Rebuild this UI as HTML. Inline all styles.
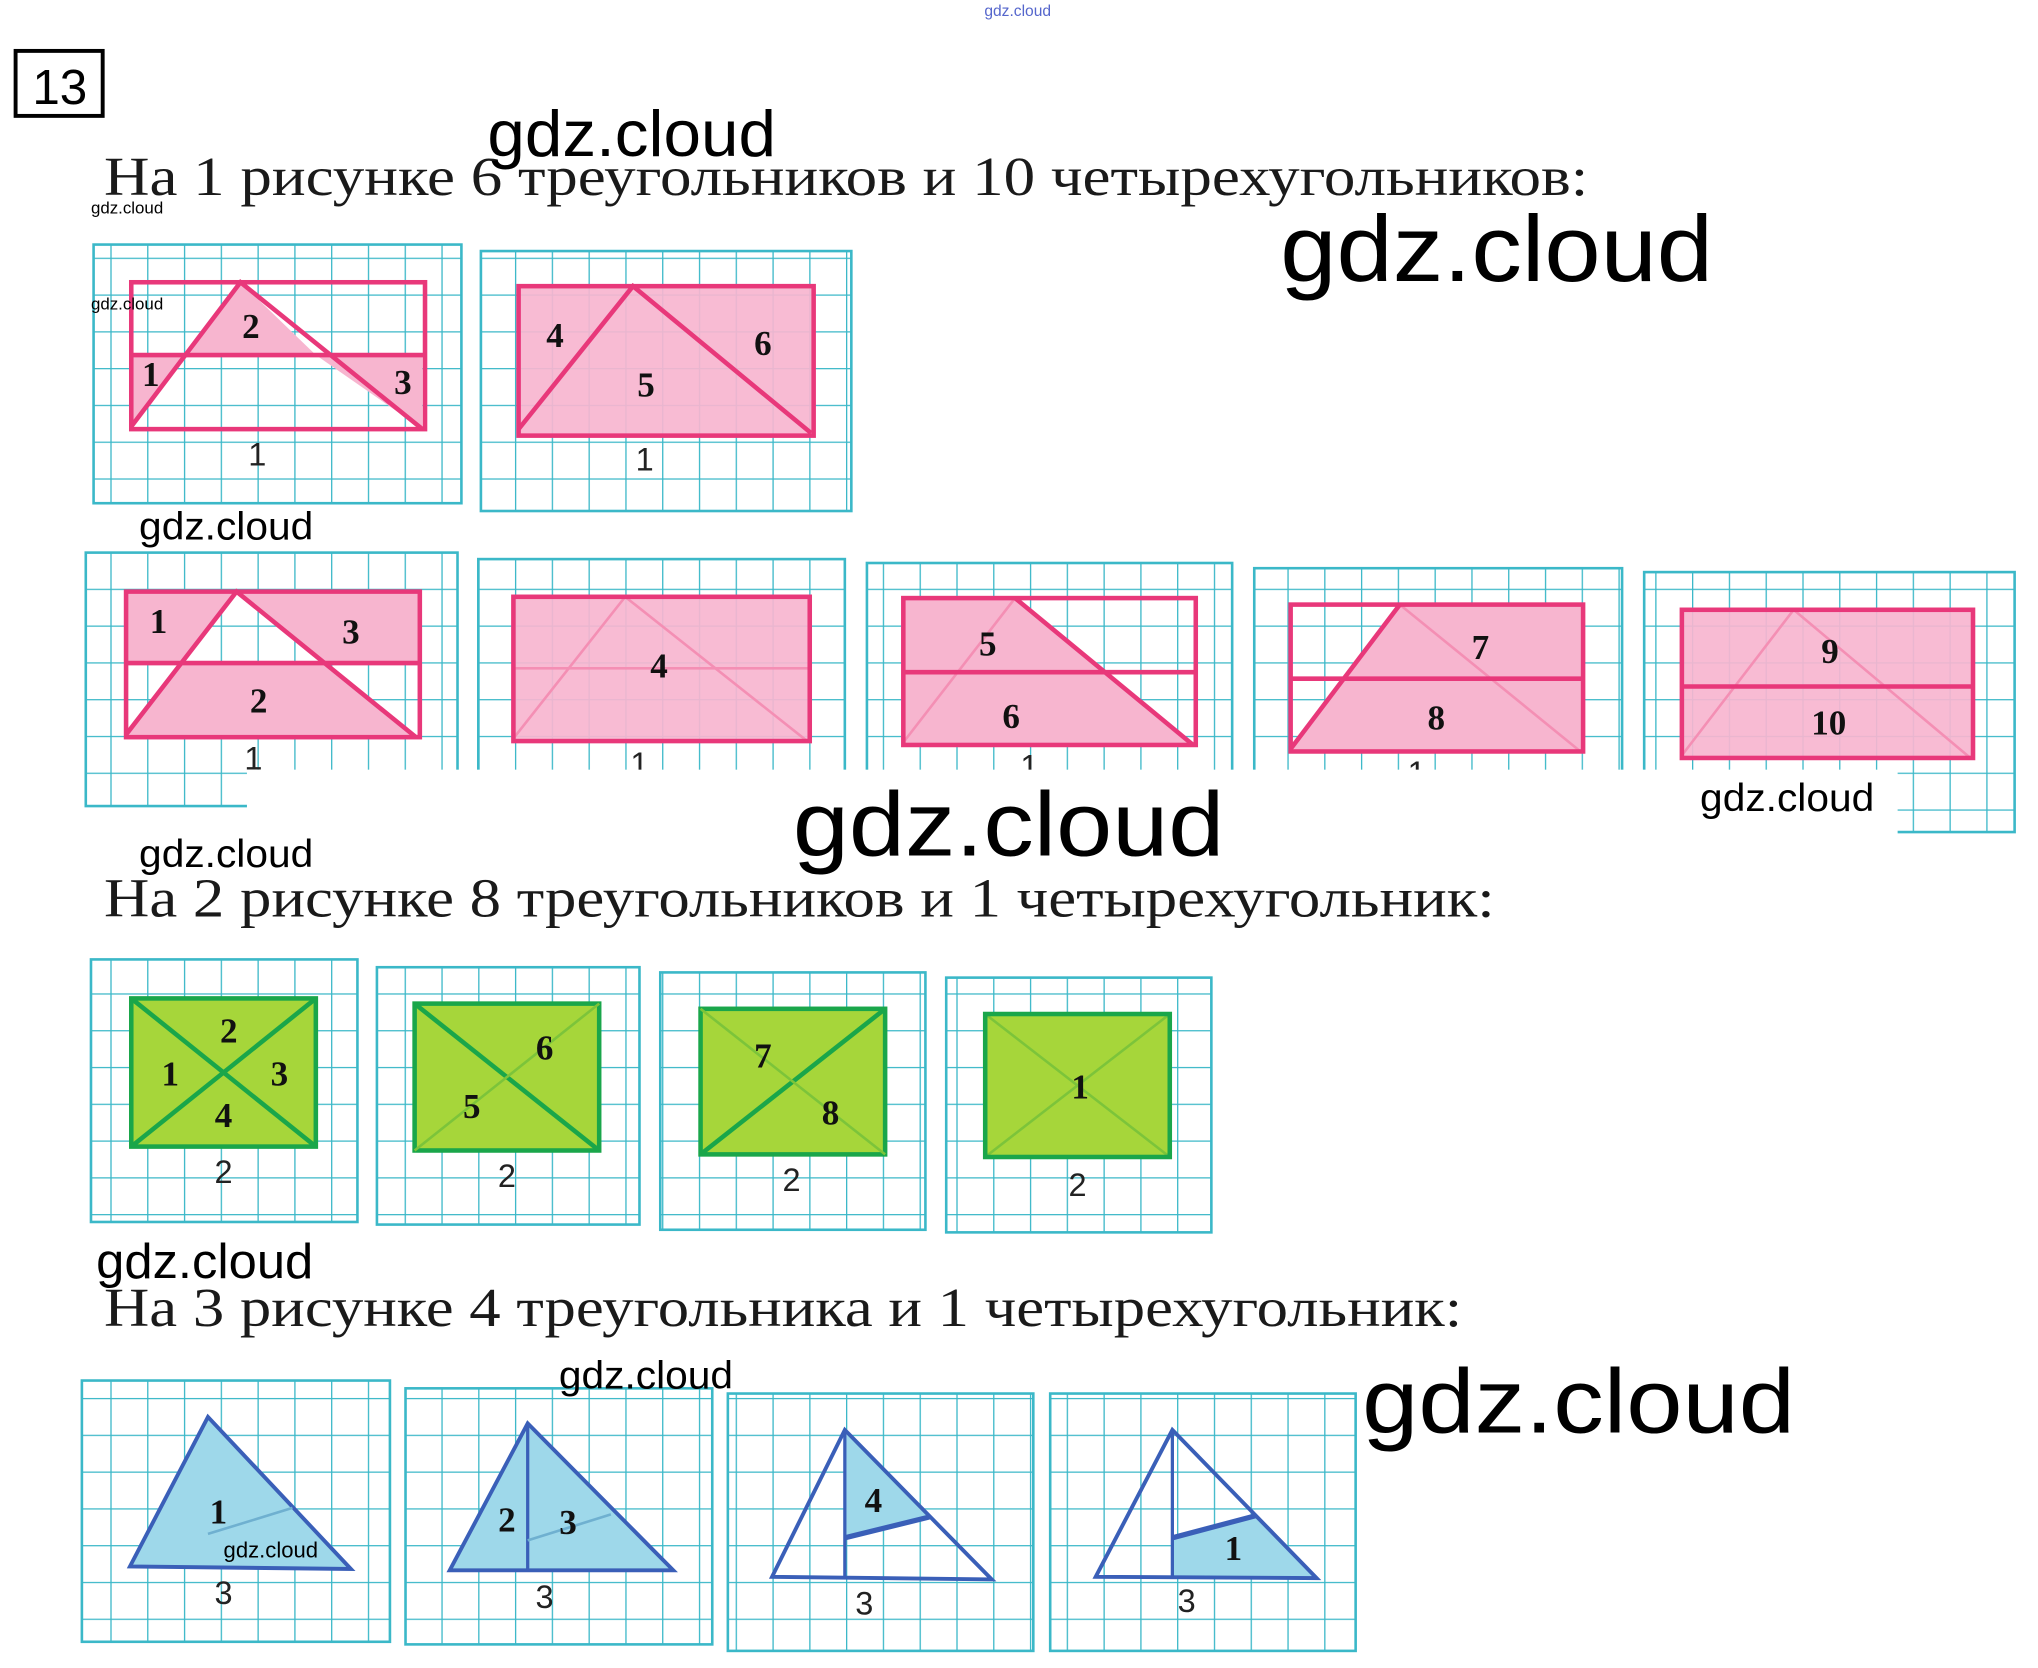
<!DOCTYPE html>
<html><head><meta charset="utf-8"><style>
html,body{margin:0;padding:0;background:#fff;width:2038px;height:1668px;overflow:hidden}
svg{display:block}
.h{font-family:"Liberation Serif",serif;font-size:42px;fill:#1a1a1a}
.w{font-family:"Liberation Sans",sans-serif;fill:#000}
.n{font-family:"Liberation Serif",serif;font-weight:bold;font-size:27px;fill:#111;text-anchor:middle}
.l{font-family:"Liberation Sans",sans-serif;font-size:25px;fill:#222;text-anchor:middle}
</style></head><body>
<svg width="2038" height="1668" viewBox="0 0 1568 1283" xmlns="http://www.w3.org/2000/svg">
<defs>
<pattern id="g" width="28.3" height="28.3" patternUnits="userSpaceOnUse">
<path d="M0 0H28.3M0 0V28.3" stroke="#3bb8c8" stroke-width="2" fill="none"/>
</pattern>
</defs>
<text x="783" y="12" font-size="12" fill="#5566cc" font-family="Liberation Sans" text-anchor="middle">gdz.cloud</text>
<rect x="12" y="39" width="67" height="50" fill="none" stroke="#000" stroke-width="3"/>
<text x="46" y="80" class="w" font-size="38" text-anchor="middle">13</text>

<text x="80" y="150" class="h" textLength="1142" lengthAdjust="spacingAndGlyphs">На 1 рисунке 6 треугольников и 10 четырехугольников:</text>

<!-- Row 1 -->
<g>
<rect x="72" y="188" width="283" height="199" fill="url(#g)" stroke="#3bb8c8" stroke-width="2"/>
<polygon points="101,273 101,328 145,273" fill="#f7b5cf"/>
<polygon points="185,217 145,273 243,273" fill="#f7b5cf"/>
<polygon points="243,273 325,330 325,273" fill="#f7b5cf"/>
<g stroke="#e8387a" stroke-width="3.5" fill="none">
<rect x="101" y="217" width="226" height="113"/>
<line x1="101" y1="273" x2="327" y2="273"/>
<polyline points="101,328 185,217 325,330"/>
</g>
<text x="116" y="297" class="n">1</text><text x="193" y="260" class="n">2</text><text x="310" y="303" class="n">3</text>
<text x="198" y="358" class="l">1</text>
</g>
<g>
<rect x="370" y="193" width="285" height="200" fill="url(#g)" stroke="#3bb8c8" stroke-width="2"/>
<rect x="399" y="220" width="227" height="115" fill="#f7b5cf" fill-opacity="0.92"/>
<g stroke="#e8387a" stroke-width="3.5" fill="none">
<rect x="399" y="220" width="227" height="115"/>
<polyline points="399,330 487,220 624,333"/>
</g>
<text x="427" y="267" class="n">4</text><text x="497" y="305" class="n">5</text><text x="587" y="273" class="n">6</text>
<text x="496" y="362" class="l">1</text>
</g>

<!-- Row 2 -->
<g>
<rect x="66" y="425" width="286" height="195" fill="url(#g)" stroke="#3bb8c8" stroke-width="2"/>
<polygon points="97,455 182,455 140,510 97,510" fill="#f7b5cf"/>
<polygon points="182,455 323,455 323,510 250,510" fill="#f7b5cf"/>
<polygon points="140,510 250,510 320,567 97,567" fill="#f7b5cf"/>
<g stroke="#e8387a" stroke-width="3.5" fill="none">
<rect x="97" y="455" width="226" height="112"/>
<line x1="97" y1="510" x2="323" y2="510"/>
<polyline points="97,565 182,455 320,567"/>
</g>
<text x="122" y="487" class="n">1</text><text x="199" y="548" class="n">2</text><text x="270" y="495" class="n">3</text>
<text x="195" y="592" class="l">1</text>
</g>
<g>
<rect x="368" y="430" width="282" height="170" fill="url(#g)" stroke="#3bb8c8" stroke-width="2"/>
<rect x="395" y="459" width="228" height="111" fill="#f7b5cf" fill-opacity="0.92"/>
<g stroke="#f48fb4" stroke-width="2" fill="none"><line x1="395" y1="514" x2="623" y2="514"/><polyline points="395,568 481,459 621,570"/></g>
<rect x="395" y="459" width="228" height="111" fill="none" stroke="#e8387a" stroke-width="3.5"/>
<text x="507" y="521" class="n">4</text>
<text x="492" y="596" class="l">1</text>
</g>
<g>
<rect x="667" y="433" width="281" height="177" fill="url(#g)" stroke="#3bb8c8" stroke-width="2"/>
<polygon points="695,460 781,460 918,573 695,573" fill="#f7b5cf"/>
<g stroke="#f48fb4" stroke-width="2" fill="none"><line x1="695" y1="571" x2="781" y2="460"/></g>
<g stroke="#e8387a" stroke-width="3.5" fill="none">
<rect x="695" y="460" width="225" height="113"/>
<line x1="695" y1="517" x2="920" y2="517"/>
<line x1="781" y1="460" x2="918" y2="573"/>
</g>
<text x="760" y="504" class="n">5</text><text x="778" y="560" class="n">6</text>
<text x="792" y="598" class="l">1</text>
</g>
<g>
<rect x="965" y="437" width="283" height="178" fill="url(#g)" stroke="#3bb8c8" stroke-width="2"/>
<polygon points="1077,465 1218,465 1218,578 993,578" fill="#f7b5cf"/>
<g stroke="#f48fb4" stroke-width="2" fill="none"><line x1="1077" y1="465" x2="1216" y2="578"/></g>
<g stroke="#e8387a" stroke-width="3.5" fill="none">
<rect x="993" y="465" width="225" height="113"/>
<line x1="993" y1="522" x2="1218" y2="522"/>
<line x1="993" y1="576" x2="1077" y2="465"/>
</g>
<text x="1139" y="507" class="n">7</text><text x="1105" y="561" class="n">8</text>
<text x="1090" y="603" class="l">1</text>
</g>
<g>
<rect x="1265" y="440" width="285" height="200" fill="url(#g)" stroke="#3bb8c8" stroke-width="2"/>
<rect x="1294" y="469" width="224" height="114" fill="#f7b5cf" fill-opacity="0.92"/>
<g stroke="#f48fb4" stroke-width="2" fill="none"><polyline points="1294,581 1380,469 1516,583"/></g>
<g stroke="#e8387a" stroke-width="3.5" fill="none">
<rect x="1294" y="469" width="224" height="114"/>
<line x1="1294" y1="528" x2="1518" y2="528"/>
</g>
<text x="1408" y="510" class="n">9</text><text x="1407" y="565" class="n">10</text>
</g>
<!-- white band -->
<rect x="190" y="592" width="1270" height="50" fill="#fff"/>

<text x="80" y="705" class="h" textLength="1070" lengthAdjust="spacingAndGlyphs">На 2 рисунке 8 треугольников и 1 четырехугольник:</text>

<!-- Row 3 -->
<g>
<rect x="70" y="738" width="205" height="202" fill="url(#g)" stroke="#3bb8c8" stroke-width="2"/>
<rect x="101" y="768" width="142" height="114" fill="#a6d63a"/>
<g stroke="#1aa64a" stroke-width="3.5" fill="none"><rect x="101" y="768" width="142" height="114"/><line x1="101" y1="768" x2="243" y2="882"/><line x1="243" y1="768" x2="101" y2="882"/></g>
<text x="131" y="835" class="n">1</text><text x="176" y="802" class="n">2</text><text x="215" y="835" class="n">3</text><text x="172" y="867" class="n">4</text>
<text x="172" y="910" class="l">2</text>
</g>
<g>
<rect x="290" y="744" width="202" height="198" fill="url(#g)" stroke="#3bb8c8" stroke-width="2"/>
<rect x="319" y="772" width="142" height="113" fill="#a6d63a"/>
<g stroke="#1aa64a" stroke-width="3.5" fill="none"><rect x="319" y="772" width="142" height="113"/><line x1="319" y1="772" x2="461" y2="885"/></g>
<line x1="461" y1="772" x2="319" y2="885" stroke="#7cc43a" stroke-width="2"/>
<text x="419" y="815" class="n">6</text><text x="363" y="860" class="n">5</text>
<text x="390" y="913" class="l">2</text>
</g>
<g>
<rect x="508" y="748" width="204" height="198" fill="url(#g)" stroke="#3bb8c8" stroke-width="2"/>
<rect x="539" y="776" width="142" height="112" fill="#a6d63a"/>
<g stroke="#1aa64a" stroke-width="3.5" fill="none"><rect x="539" y="776" width="142" height="112"/><line x1="681" y1="776" x2="539" y2="888"/></g>
<line x1="539" y1="776" x2="681" y2="888" stroke="#7cc43a" stroke-width="2"/>
<text x="587" y="821" class="n">7</text><text x="639" y="865" class="n">8</text>
<text x="609" y="916" class="l">2</text>
</g>
<g>
<rect x="728" y="752" width="204" height="196" fill="url(#g)" stroke="#3bb8c8" stroke-width="2"/>
<rect x="758" y="780" width="142" height="110" fill="#a6d63a"/>
<g stroke="#7cc43a" stroke-width="2"><line x1="758" y1="780" x2="900" y2="890"/><line x1="900" y1="780" x2="758" y2="890"/></g>
<rect x="758" y="780" width="142" height="110" fill="none" stroke="#1aa64a" stroke-width="3.5"/>
<text x="831" y="845" class="n">1</text>
<text x="829" y="920" class="l">2</text>
</g>

<text x="80" y="1020" class="h" textLength="1045" lengthAdjust="spacingAndGlyphs">На 3 рисунке 4 треугольника и 1 четырехугольник:</text>

<!-- Row 4 -->
<g>
<rect x="63" y="1062" width="237" height="201" fill="url(#g)" stroke="#3bb8c8" stroke-width="2"/>
<polygon points="100,1205 160,1090 270,1207" fill="#9ed8ea" stroke="#3a5fb8" stroke-width="3"/>
<line x1="160" y1="1180" x2="225" y2="1160" stroke="#6fb0d0" stroke-width="2"/>
<text x="168" y="1172" class="n">1</text>
<text x="172" y="1234" class="l">3</text>
</g>
<g>
<rect x="312" y="1068" width="236" height="197" fill="url(#g)" stroke="#3bb8c8" stroke-width="2"/>
<polygon points="346,1208 406,1095 518,1208" fill="#9ed8ea" stroke="#3a5fb8" stroke-width="3"/>
<line x1="406" y1="1095" x2="406" y2="1208" stroke="#3a5fb8" stroke-width="2.5"/>
<line x1="406" y1="1185" x2="470" y2="1165" stroke="#6fb0d0" stroke-width="2"/>
<text x="390" y="1178" class="n">2</text><text x="437" y="1180" class="n">3</text>
<text x="419" y="1237" class="l">3</text>
</g>
<g>
<rect x="560" y="1072" width="235" height="198" fill="url(#g)" stroke="#3bb8c8" stroke-width="2"/>
<polygon points="650,1100 715,1167 650,1183" fill="#9ed8ea"/>
<polygon points="594,1213 650,1100 763,1215" fill="none" stroke="#3a5fb8" stroke-width="3"/>
<line x1="650" y1="1100" x2="650" y2="1213" stroke="#3a5fb8" stroke-width="2.5"/>
<line x1="650" y1="1183" x2="715" y2="1167" stroke="#3a5fb8" stroke-width="4"/>
<text x="672" y="1163" class="n">4</text>
<text x="665" y="1242" class="l">3</text>
</g>
<g>
<rect x="808" y="1072" width="235" height="198" fill="url(#g)" stroke="#3bb8c8" stroke-width="2"/>
<polygon points="902,1183 966,1166 1013,1214 902,1213" fill="#9ed8ea"/>
<polygon points="843,1213 902,1100 1013,1214" fill="none" stroke="#3a5fb8" stroke-width="3"/>
<line x1="902" y1="1100" x2="902" y2="1213" stroke="#3a5fb8" stroke-width="2.5"/>
<line x1="902" y1="1183" x2="966" y2="1166" stroke="#3a5fb8" stroke-width="4"/>
<text x="949" y="1200" class="n">1</text>
<text x="913" y="1240" class="l">3</text>
</g>

<!-- watermarks -->
<text x="375" y="120" class="w" font-size="50" textLength="222" lengthAdjust="spacingAndGlyphs">gdz.cloud</text>
<text x="985" y="216" class="w" font-size="72" textLength="333" lengthAdjust="spacingAndGlyphs">gdz.cloud</text>
<text x="70" y="164" class="w" font-size="13">gdz.cloud</text>
<text x="70" y="238" class="w" font-size="13">gdz.cloud</text>
<text x="107" y="415" class="w" font-size="30" textLength="134" lengthAdjust="spacingAndGlyphs">gdz.cloud</text>
<text x="610" y="658" class="w" font-size="70" textLength="332" lengthAdjust="spacingAndGlyphs">gdz.cloud</text>
<text x="1308" y="624" class="w" font-size="30" textLength="134" lengthAdjust="spacingAndGlyphs">gdz.cloud</text>
<text x="107" y="667" class="w" font-size="30" textLength="134" lengthAdjust="spacingAndGlyphs">gdz.cloud</text>
<text x="74" y="983" class="w" font-size="38" textLength="167" lengthAdjust="spacingAndGlyphs">gdz.cloud</text>
<text x="430" y="1068" class="w" font-size="30" textLength="134" lengthAdjust="spacingAndGlyphs">gdz.cloud</text>
<text x="1048" y="1102" class="w" font-size="70" textLength="333" lengthAdjust="spacingAndGlyphs">gdz.cloud</text>
<text x="172" y="1198" class="w" font-size="17">gdz.cloud</text>
</svg>
</body></html>
